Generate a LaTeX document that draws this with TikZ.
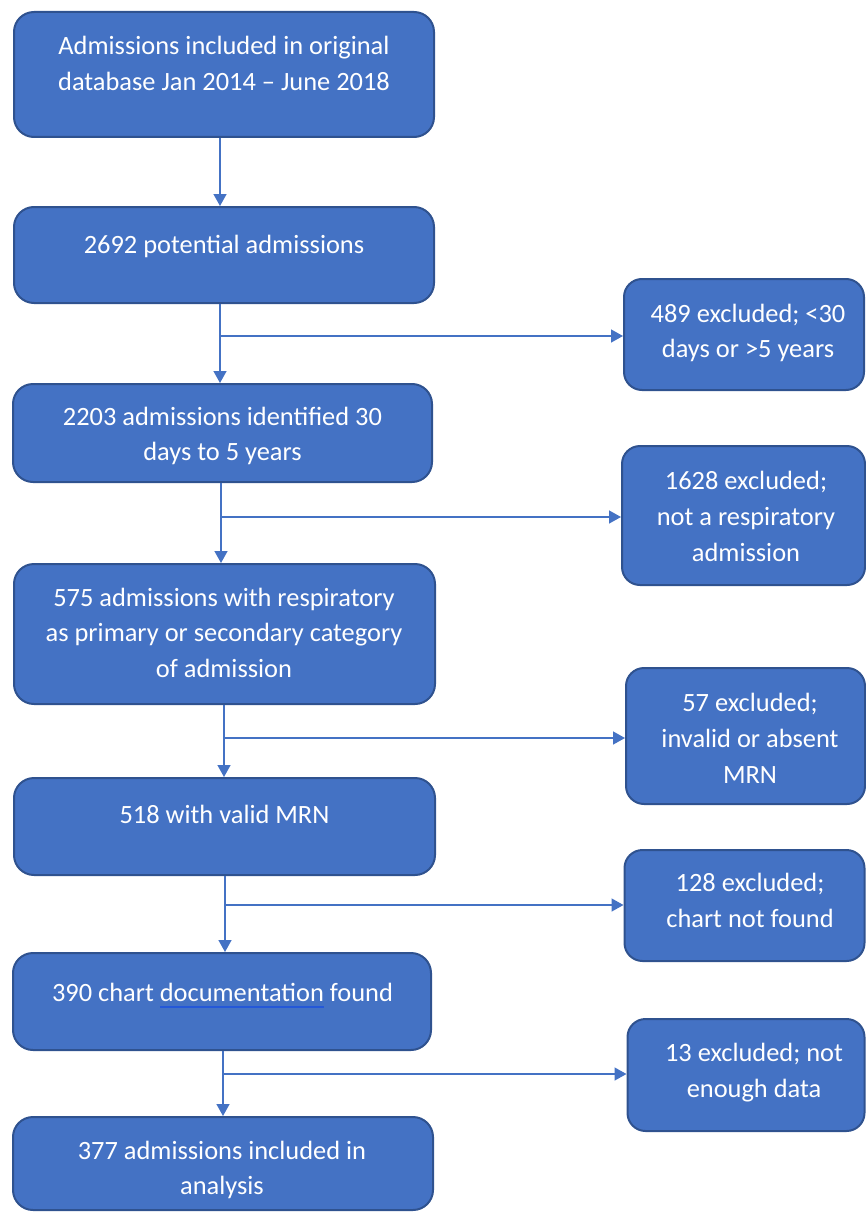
\documentclass[tikz,border=0pt]{standalone}
\usepackage{fontspec}
\setmainfont{Carlito}
\usetikzlibrary{arrows.meta,calc}
\definecolor{boxfill}{HTML}{4472C4}
\definecolor{boxedge}{HTML}{2F528F}
\definecolor{ulc}{HTML}{2458D8}
\newcommand\spellul[1]{\leavevmode\setbox0\hbox{#1}\rlap{\color{ulc}\rule[-6pt]{\wd0}{1.2pt}}\box0\relax}
\tikzset{
  flowbox/.style={draw=boxedge, fill=boxfill, line width=2pt, rounded corners=20pt, inner sep=0pt},
  lefttxt/.style={text=white, align=center, inner sep=0pt, font=\fontsize{26.4}{35.7}\selectfont},
  arr/.style={draw=boxfill, line width=1.5pt, -{Triangle[width=13pt,length=12pt]}},
}
\begin{document}
\begin{tikzpicture}[x=1pt,y=-1pt]
\useasboundingbox (0,0) rectangle (866,1212);
% left column boxes
\node[flowbox, minimum width=420pt, minimum height=125pt] (b1) at (224,74.5) {};
\node[flowbox, minimum width=420pt, minimum height=96pt]  (b2) at (224,255) {};
\node[flowbox, minimum width=419pt, minimum height=98pt]  (b3) at (222.5,433) {};
\node[flowbox, minimum width=421pt, minimum height=140pt] (b4) at (224.5,634) {};
\node[flowbox, minimum width=421pt, minimum height=97pt]  (b5) at (224.5,826.5) {};
\node[flowbox, minimum width=418pt, minimum height=97pt]  (b6) at (222,1001.5) {};
\node[flowbox, minimum width=420pt, minimum height=93pt]  (b7) at (223,1163.5) {};
% right column boxes
\node[flowbox, rounded corners=18pt, minimum width=240pt, minimum height=111pt] (r1) at (744,334.5) {};
\node[flowbox, rounded corners=18pt, minimum width=243pt, minimum height=139pt] (r2) at (743.5,515.5) {};
\node[flowbox, rounded corners=18pt, minimum width=239pt, minimum height=136pt] (r3) at (745.5,736) {};
\node[flowbox, rounded corners=18pt, minimum width=240pt, minimum height=111pt] (r4) at (744.5,905.5) {};
\node[flowbox, rounded corners=18pt, minimum width=237pt, minimum height=112pt] (r5) at (746,1075) {};
% texts
\node[lefttxt] (t1) at (224,65.7) {\strut Admissions included in original\\database Jan 2014 -- June 2018\strut};
\node[lefttxt] (t2) at (224,246) {\strut 2692 potential admissions\strut};
\node[lefttxt] (t3) at (222.5,436) {\strut 2203 admissions identified 30\\days to 5 years\strut};
\node[lefttxt] (t4) at (224,634.8) {\strut 575 admissions with respiratory\\as primary or secondary category\\of admission\strut};
\node[lefttxt] (t5) at (224.5,816) {\strut 518 with valid MRN\strut};
\node[lefttxt] (t6) at (222.5,994.5) {\strut 390 chart \spellul{documentation} found\strut};
\node[lefttxt] (t7) at (222,1169.7) {\strut 377 admissions included in\\analysis\strut};
\node[lefttxt] (u1) at (748,332.8) {\strut 489 excluded; {<}30\\days or {>}5 years\strut};
\node[lefttxt] (u2) at (746,518.5) {\strut 1628 excluded;\\not a respiratory\\admission\strut};
\node[lefttxt] (u3) at (750,740.2) {\strut 57 excluded;\\invalid or absent\\MRN\strut};
\node[lefttxt] (u4) at (750,902) {\strut 128 excluded;\\chart not found\strut};
\node[lefttxt] (u5) at (754,1072.4) {\strut 13 excluded; not\\enough data\strut};
% junction coordinates
\coordinate (j2) at (220,336);
\coordinate (j3) at (221,517);
\coordinate (j4) at (224,738);
\coordinate (j5) at (225,905);
\coordinate (j6) at (223,1074);
% main flow
\draw[arr] ([xshift=-4pt]b1.south) -- ([xshift=-4pt]b2.north);
\draw[arr] (j2 |- b2.south) -- (j2 |- b3.north);
\draw[arr] (j3 |- b3.south) -- (j3 |- b4.north);
\draw[arr] (j4 |- b4.south) -- (j4 |- b5.north);
\draw[arr] (j5 |- b5.south) -- (j5 |- b6.north);
\draw[arr] (j6 |- b6.south) -- (j6 |- b7.north);
% exclusions
\draw[arr] (j2) -- (j2 -| r1.west);
\draw[arr] (j3) -- (j3 -| r2.west);
\draw[arr] (j4) -- (j4 -| r3.west);
\draw[arr] (j5) -- (j5 -| r4.west);
\draw[arr] (j6) -- (j6 -| r5.west);
\end{tikzpicture}
\end{document}
